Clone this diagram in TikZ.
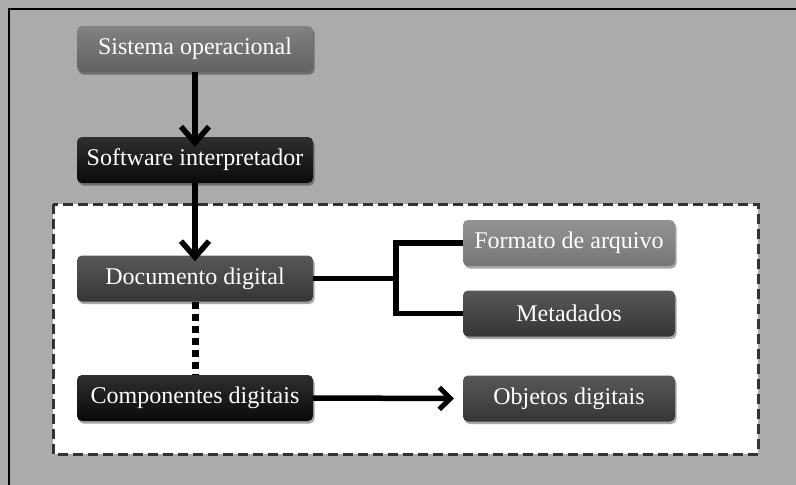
\documentclass[tikz,border=0pt]{standalone}
\usepackage{fontspec}
\setmainfont{Liberation Serif}
\usetikzlibrary{shadows,arrows.meta}
\definecolor{bggray}{HTML}{ABABAB}
\definecolor{midgray}{HTML}{6B6B6B}
\definecolor{lightgray2}{HTML}{808080}
\definecolor{darkgray2}{HTML}{3A3A3A}
\definecolor{nearblack}{HTML}{0A0A0A}
\tikzset{
  box/.style={rounded corners=5pt, minimum height=46pt, text=white,
    font=\fontsize{24}{28}\selectfont, inner sep=0pt,
    drop shadow={shadow xshift=1.5pt, shadow yshift=-2.5pt, fill=black, opacity=0.35}},
  leftbox/.style={box, minimum width=236pt},
  rightbox/.style={box, minimum width=212pt},
  shadeit/.style={top color=#1!85!white, middle color=#1, bottom color=#1!92!black},
  conn/.style={line width=5.5pt, draw=black},
  arr/.style={conn, -{Straight Barb[length=16pt, width=28pt, line width=5.5pt]}},
  harr/.style={conn, -{Straight Barb[length=11pt, width=22pt, line width=5pt]}},
}
\begin{document}
\begin{tikzpicture}[x=1pt,y=-1pt]
\useasboundingbox (0,0) rectangle (796,485);
\fill[bggray] (0,0) rectangle (796,485);
\draw[line width=2pt] (9,485) -- (9,9) -- (796,9);
\fill[white] (53,204) rectangle (758,454);
\draw[line width=3pt, draw=black!80, dash pattern=on 10pt off 5pt] (53,204) rectangle (758,454);

\node[leftbox, shadeit=midgray] (so) at (195,49) {Sistema operacional};
\node[leftbox, shadeit=nearblack] (si) at (195,160) {Software interpretador};
\node[leftbox, shadeit=darkgray2] (dd) at (195,278.5) {Documento digital};
\node[leftbox, shadeit=nearblack] (cd) at (195,398) {Componentes digitais};
\node[rightbox, shadeit=lightgray2] (fa) at (569,243) {Formato de arquivo};
\node[rightbox, shadeit=darkgray2] (md) at (569,313.5) {Metadados};
\node[rightbox, shadeit=darkgray2] (od) at (569,398.5) {Objetos digitais};

\coordinate (br) at (396,278.5);
\draw[arr] (so.south) -- ([yshift=-10pt]si.north);
\draw[arr] (si.south) -- ([yshift=-6pt]dd.north);
\draw[conn] (dd.east) -- (br);
\draw[conn] (fa.west) -| (br) |- (md.west);
\draw[line width=7pt, dash pattern=on 7pt off 5pt] (dd.south) -- (cd.north);
\draw[harr] (cd.east) -- ([xshift=-9pt]od.west);
\end{tikzpicture}
\end{document}
